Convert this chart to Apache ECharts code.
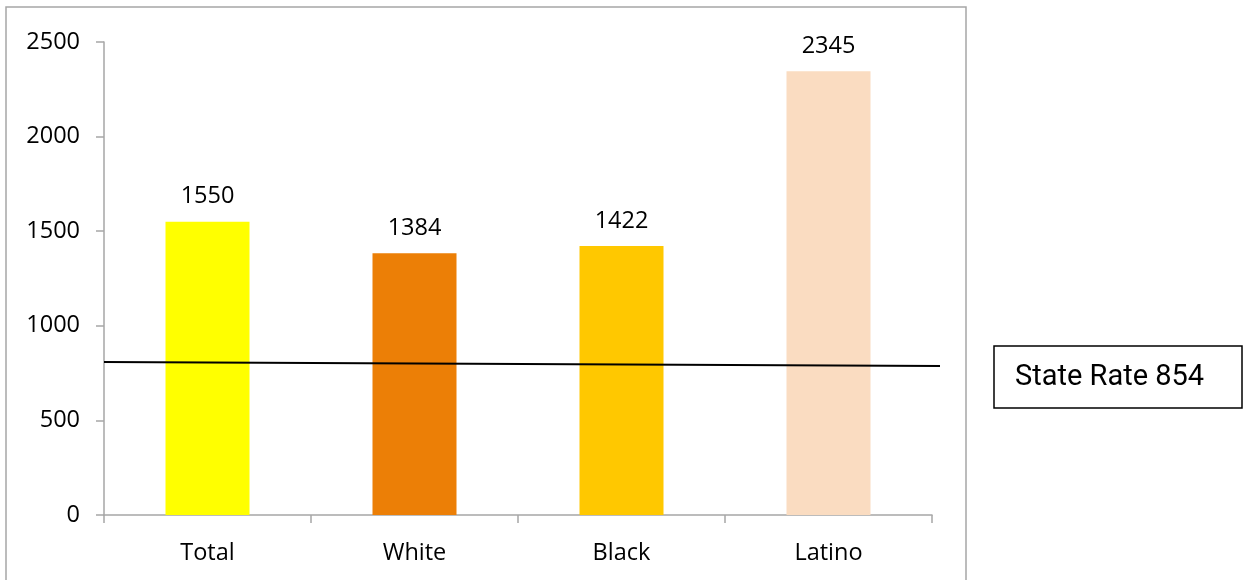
<!DOCTYPE html>
<html>
<head>
<meta charset="utf-8">
<script src="https://cdn.jsdelivr.net/npm/echarts@6/dist/echarts.min.js"></script>
<style>html,body{margin:0;padding:0;background:#fff}#c{width:1244px;height:580px}</style>
</head>
<body>
<div id="c"></div>
<script>
const categories = ['Total', 'White', 'Black', 'Latino'];
const values = [1550, 1384, 1422, 2345];
const barColors = ['#FFFF00', '#EC7F06', '#FFC800', '#FADCC1'];
const yTicks = [0, 500, 1000, 1500, 2000, 2500];
const stateRate = 854;
// drawn reference line as it appears in the picture: start and end values
const stateLineX = [0, 1];
const stateLineY = [809, 787];

const chart = echarts.init(document.getElementById('c'), null, {renderer: 'canvas'});
const font = '"Open Sans", sans-serif';
const fs = 23.5;
chart.setOption({
  animation: false,
  backgroundColor: '#fff',
  grid: [
    {left: 104, right: 312, top: 42, bottom: 65, containLabel: false},
    {left: 104, right: 304, top: 42, bottom: 65, containLabel: false}
  ],
  xAxis: [{
    type: 'category',
    gridIndex: 0,
    data: categories,
    axisLine: {lineStyle: {color: '#A6A6A6', width: 1.5}},
    axisTick: {show: true, length: 8, lineStyle: {color: '#A6A6A6', width: 1.5}},
    axisLabel: {color: '#000', fontFamily: font, fontSize: fs, margin: 26}
  }, {
    type: 'value', gridIndex: 1, min: 0, max: 1, show: false
  }],
  yAxis: [{
    type: 'value',
    gridIndex: 0,
    min: yTicks[0], max: yTicks[yTicks.length - 1], interval: 500,
    axisLine: {show: true, lineStyle: {color: '#A6A6A6', width: 1.5}},
    axisTick: {show: true, length: 8, lineStyle: {color: '#A6A6A6', width: 1.5}},
    splitLine: {show: false},
    axisLabel: {color: '#000', fontFamily: font, fontSize: fs, margin: 24, padding: [6, 0, 0, 0], formatter: v => String(v)}
  }, {
    type: 'value', gridIndex: 1,
    min: yTicks[0], max: yTicks[yTicks.length - 1], show: false
  }],
  series: [{
    type: 'bar',
    barWidth: 84,
    data: values.map((v, i) => ({value: v, itemStyle: {color: barColors[i]}})),
    label: {show: true, position: 'top', distance: 13, color: '#000', fontFamily: font, fontSize: fs}
  }, {
    type: 'line',
    xAxisIndex: 1,
    yAxisIndex: 1,
    symbol: 'none',
    lineStyle: {color: '#000', width: 2},
    data: stateLineX.map((x, i) => [x, stateLineY[i]]),
    z: 5
  }],
  graphic: [{
    type: 'rect', silent: true,
    shape: {x: 6, y: 7, width: 960, height: 620},
    style: {fill: 'none', stroke: '#A6A6A6', lineWidth: 1.5}
  }, {
    type: 'rect', silent: true,
    shape: {x: 994, y: 346, width: 248, height: 62},
    style: {fill: '#fff', stroke: '#000', lineWidth: 1.5}
  }, {
    type: 'text', silent: true,
    x: 1015, y: 378,
    style: {text: 'State Rate ' + stateRate, fill: '#000', font: '29px Roboto', verticalAlign: 'middle'}
  }]
});
</script>
</body>
</html>
